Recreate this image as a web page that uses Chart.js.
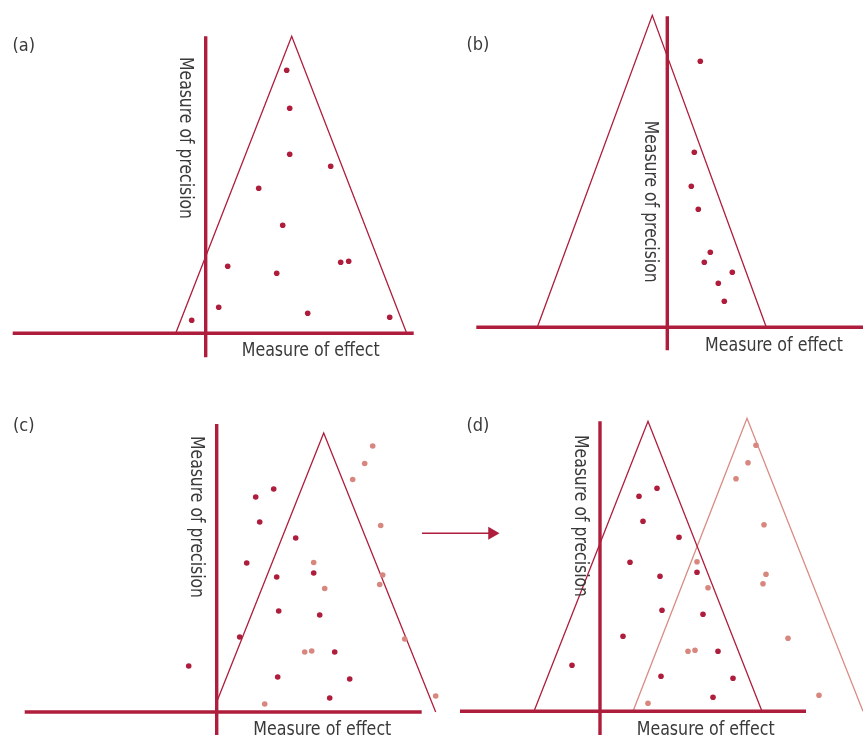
<!DOCTYPE html>
<html><head><meta charset="utf-8">
<script src="https://cdn.jsdelivr.net/npm/chart.js@4/dist/chart.umd.min.js"></script>
<style>html,body{margin:0;padding:0;background:#fff;overflow:hidden}canvas{display:block}</style>
</head><body>
<canvas id="chart" width="863" height="735"></canvas>
<script>
// ---------- DATA (effect, precision; 0 = the axes) ----------
const axisLabelEffect = 'Measure of effect';
const axisLabelPrecision = 'Measure of precision';
const panelLetters = ['(a)', '(b)', '(c)', '(d)'];

// Panel (a): symmetric funnel
const aEffect    = [8.1, 8.4, 8.4, 12.5, 5.3, 7.7, 2.2, 7.1, 13.5, 14.3, 1.3, 10.2, -1.4, 18.4];
const aPrecision = [26.3, 22.5, 17.9, 16.7, 14.5, 10.8, 6.7, 6.0, 7.1, 7.2, 2.6, 2.0, 1.3, 1.6];
const aFunnelEffect    = [-3.0, 8.6, 20.1];
const aFunnelPrecision = [0, 29.7, 0];
const aEffectAxis    = [-19.3, 20.8];
const aPrecisionAxis = [-2.4, 29.7];

// Panel (b): asymmetric funnel
const bEffect    = [3.3, 2.7, 2.4, 3.1, 4.3, 3.7, 6.5, 5.1, 5.7];
const bPrecision = [26.6, 17.5, 14.1, 11.8, 7.5, 6.5, 5.5, 4.4, 2.6];
const bFunnelEffect    = [-13.0, -1.5, 9.9];
const bFunnelPrecision = [0, 31.2, 0];
const bEffectAxis    = [-19.1, 19.8];
const bPrecisionAxis = [-2.3, 31.1];

// Panels (c) and (d): observed and imputed (missing) studies
const observedEffect    = [3.9, 5.7, 4.3, 7.9, 3.0, 6.0, 9.7, 6.2, 10.3, 2.3, 11.8, -2.8, 6.1, 13.3, 11.3];
const observedPrecision = [21.5, 22.3, 19.0, 17.4, 14.9, 13.5, 13.9, 10.1, 9.7, 7.5, 6.0, 4.6, 3.5, 3.3, 1.4];
const missingEffect     = [15.6, 14.8, 13.6, 16.4, 9.7, 10.8, 16.6, 16.3, 18.8, 8.8, 9.5, 4.8, 21.9];
const missingPrecision  = [26.6, 24.85, 23.25, 18.65, 14.95, 12.35, 13.7, 12.75, 7.3, 6.0, 6.1, 0.8, 1.6];

const cFunnelEffect    = [0.0, 10.7, 21.9];
const cFunnelPrecision = [1.0, 27.9, 0];
const cEffectAxis    = [-19.2, 20.5];
const cPrecisionAxis = [-3.0, 28.8];

const dFunnelEffect    = [-6.6, 4.8, 16.2];
const dFunnelPrecision = [0, 29.0, 0];
const dAdjFunnelEffect    = [3.3, 14.7, 26.3];
const dAdjFunnelPrecision = [0, 29.3, 0];
const dEffectAxis    = [-14.0, 20.6];
const dPrecisionAxis = [-3.0, 29.0];

const arrowEffect    = [-17.8, -10.8];
const arrowPrecision = [17.8, 17.8];

// ---------- STYLE / LAYOUT ----------
const DARK = '#AF1D3C';
const LIGHT = '#D8877F';
const LIGHT_LINE = '#D98C84';
const TEXT = '#3a3a3a';
const FONT = "'Liberation Sans Narrow', 'DejaVu Sans Condensed', 'Roboto', 'Liberation Sans', sans-serif";
const PX_PER_UNIT = 10;
const W = 863, H = 735;

const panels = [
  { x: 'xa', y: 'ya', origin: [205.7, 333.3], letter: [12.5, 51], eff: [36, 22.7], prec: [-26.2, -276.3] },
  { x: 'xb', y: 'yb', origin: [667.3, 327.3], letter: [466.5, 50], eff: [37.7, 23.4], prec: [-22.0, -206.6] },
  { x: 'xc', y: 'yc', origin: [216.7, 712.0], letter: [13, 431], eff: [36.6, 23.0], prec: [-25.4, -276.0] },
  { x: 'xd', y: 'yd', origin: [600.0, 711.3], letter: [466.5, 431], eff: [36.7, 24.0], prec: [-25.2, -276.3] }
];

const pts = (xs, ys) => xs.map((v, i) => ({ x: v, y: ys[i] }));

function axisSets(p, effAxis, precAxis) {
  const base = { showLine: true, borderColor: DARK, borderWidth: 3.4, pointRadius: 0, order: 2,
                 xAxisID: p.x, yAxisID: p.y, borderCapStyle: 'butt' };
  return [
    Object.assign({}, base, { data: pts(effAxis, [0, 0]) }),
    Object.assign({}, base, { data: pts([0, 0], precAxis) })
  ];
}
function funnel(p, ex, py, color) {
  return { showLine: true, borderColor: color, borderWidth: 1.3, pointRadius: 0, order: 3, tension: 0,
           xAxisID: p.x, yAxisID: p.y, data: pts(ex, py) };
}
function dots(p, ex, py, color) {
  return { showLine: false, backgroundColor: color, borderWidth: 0, pointRadius: 2.8, order: 0,
           xAxisID: p.x, yAxisID: p.y, data: pts(ex, py) };
}

const [pa, pb, pc, pd] = panels;
const datasets = [
  dots(pa, aEffect, aPrecision, DARK),
  dots(pb, bEffect, bPrecision, DARK),
  dots(pc, missingEffect, missingPrecision, LIGHT),
  dots(pc, observedEffect, observedPrecision, DARK),
  dots(pd, missingEffect, missingPrecision, LIGHT),
  dots(pd, observedEffect, observedPrecision, DARK),
  ...axisSets(pa, aEffectAxis, aPrecisionAxis),
  ...axisSets(pb, bEffectAxis, bPrecisionAxis),
  ...axisSets(pc, cEffectAxis, cPrecisionAxis),
  ...axisSets(pd, dEffectAxis, dPrecisionAxis),
  funnel(pa, aFunnelEffect, aFunnelPrecision, DARK),
  funnel(pb, bFunnelEffect, bFunnelPrecision, DARK),
  funnel(pc, cFunnelEffect, cFunnelPrecision, DARK),
  funnel(pd, dFunnelEffect, dFunnelPrecision, DARK),
  funnel(pd, dAdjFunnelEffect, dAdjFunnelPrecision, LIGHT_LINE),
  { showLine: true, borderColor: DARK, backgroundColor: DARK, borderWidth: 1.5, order: 1,
    pointStyle: 'triangle', rotation: 90, pointRadius: [0, 7.5], pointBorderWidth: 0,
    xAxisID: pd.x, yAxisID: pd.y, data: pts(arrowEffect, arrowPrecision) }
];

const scales = {};
panels.forEach(p => {
  const [ox, oy] = p.origin;
  scales[p.x] = { type: 'linear', display: false, min: -ox / PX_PER_UNIT, max: (W - ox) / PX_PER_UNIT };
  scales[p.y] = { type: 'linear', display: false, min: -(H - oy) / PX_PER_UNIT, max: oy / PX_PER_UNIT };
});

const labelPlugin = {
  id: 'funnelLabels',
  afterDatasetsDraw(chart) {
    const ctx = chart.ctx;
    ctx.save();
    ctx.fillStyle = TEXT;
    ctx.textAlign = 'left';
    ctx.textBaseline = 'alphabetic';
    panels.forEach((p, i) => {
      const ox = chart.scales[p.x].getPixelForValue(0);
      const oy = chart.scales[p.y].getPixelForValue(0);
      ctx.font = '18px ' + FONT;
      ctx.fillText(panelLetters[i], p.letter[0], p.letter[1]);
      ctx.font = '20px ' + FONT;
      ctx.fillText(axisLabelEffect, ox + p.eff[0], oy + p.eff[1], 138);
      ctx.save();
      ctx.translate(ox + p.prec[0], oy + p.prec[1]);
      ctx.rotate(Math.PI / 2);
      ctx.fillText(axisLabelPrecision, 0, 0, 162);
      ctx.restore();
    });
    ctx.restore();
  }
};

new Chart(document.getElementById('chart'), {
  type: 'scatter',
  data: { datasets },
  options: {
    responsive: false,
    animation: false,
    devicePixelRatio: 1,
    events: [],
    layout: { padding: 0, autoPadding: false },
    scales,
    plugins: { legend: { display: false }, tooltip: { enabled: false }, title: { display: false } }
  },
  plugins: [labelPlugin]
});
</script>
</body></html>
